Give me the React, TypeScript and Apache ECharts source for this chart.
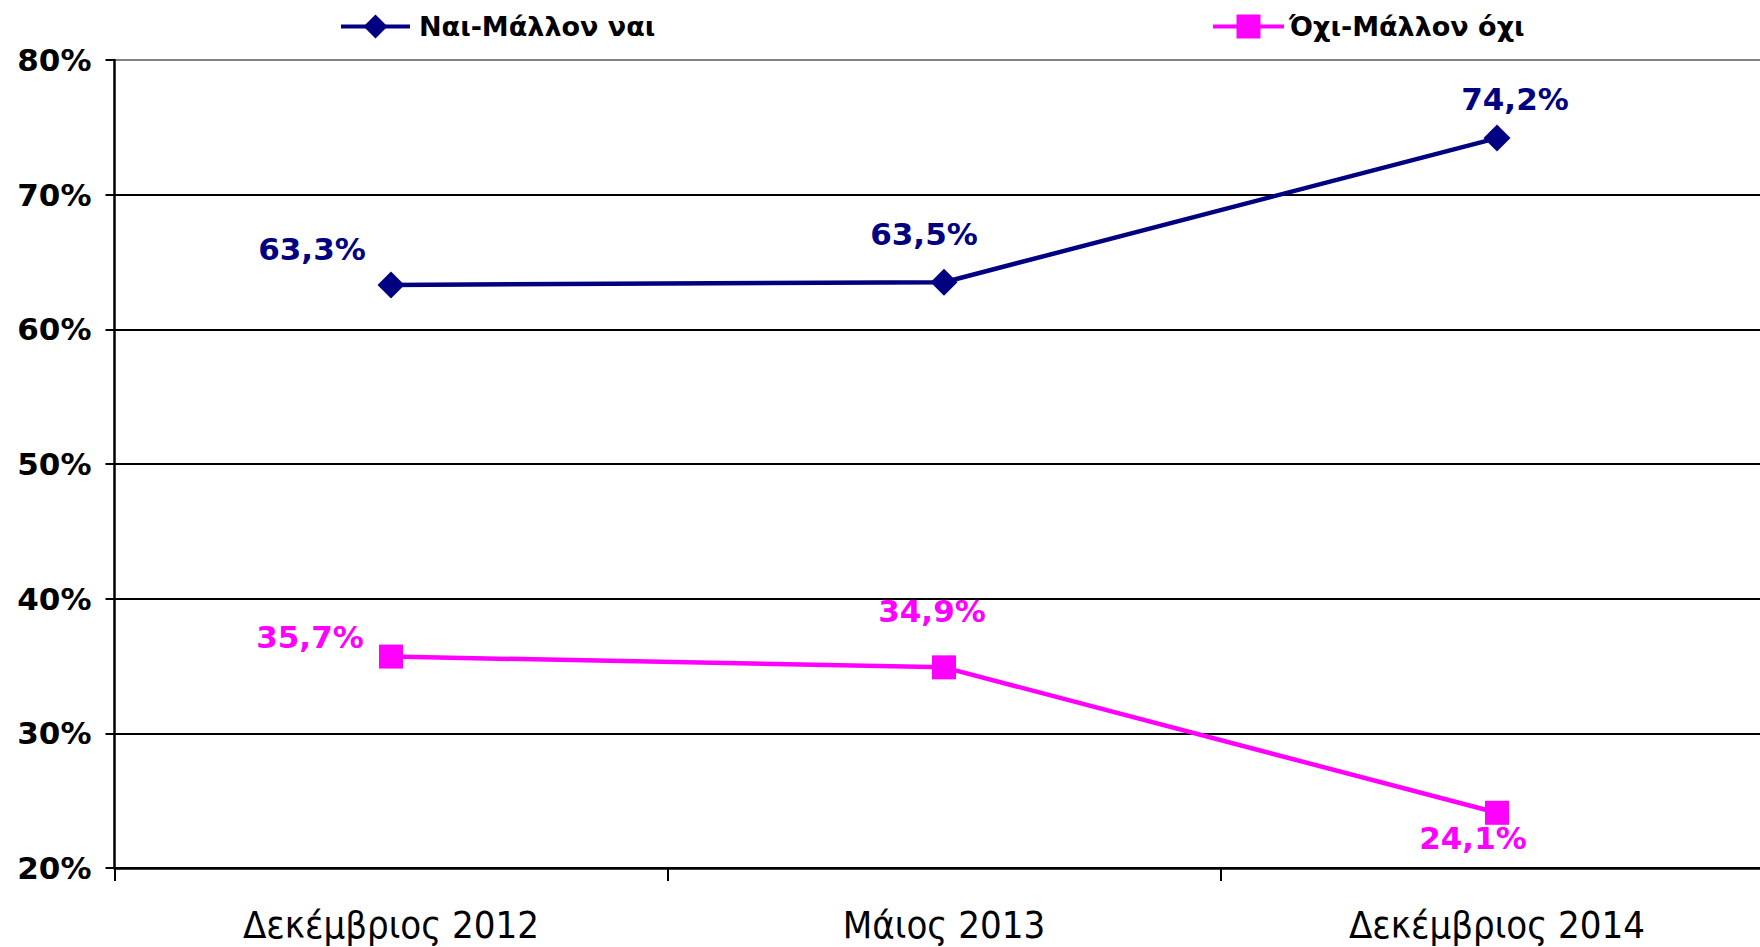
import React, { useEffect, useRef } from "react";
import * as echarts from "echarts";

const categories = ["Δεκέμβριος 2012", "Μάιος 2013", "Δεκέμβριος 2014"];
const yesValues = [63.3, 63.5, 74.2];
const noValues = [35.7, 34.9, 24.1];
const yesName = "Ναι-Μάλλον ναι";
const noName = "Όχι-Μάλλον όχι";
const yesLabelOffsets = [[-79, -36], [-20, -48], [18, -39]];
const noLabelOffsets = [[-81, -20], [-12, -56], [-24, 25]];

const NAVY = "#000080";
const MAGENTA = "#FF00FF";
const BOLD_FONT = "'DejaVu Sans', Verdana, sans-serif";
const REG_FONT = "'DejaVu Sans Condensed', 'DejaVu Sans', sans-serif";

function fmt(v: number) {
  return v.toFixed(1).replace(".", ",") + "%";
}

export default function App() {
  const ref = useRef<HTMLDivElement>(null);
  useEffect(() => {
    if (!ref.current) return;
    const chart = echarts.init(ref.current, undefined, { renderer: "svg" });
    const mk = (vals: number[], offs: number[][], color: string) =>
      vals.map((v, i) => ({
        value: v,
        label: {
          show: true,
          position: "inside",
          offset: offs[i],
          formatter: () => fmt(v),
          color,
          fontFamily: BOLD_FONT,
          fontWeight: "bold",
          fontSize: 31,
        },
      }));
    const legendCommon = {
      top: 8,
      itemHeight: 30,
      lineStyle: { width: 4 },
      textStyle: { fontFamily: BOLD_FONT, fontWeight: "bold", fontSize: 27, color: "#000" },
    };
    chart.setOption({
      animation: false,
      backgroundColor: "#ffffff",
      legend: [
        {
          ...legendCommon,
          data: [yesName],
          left: 334,
          itemWidth: 69,
          textStyle: { ...legendCommon.textStyle, padding: [0, 0, 0, 4] },
        },
        {
          ...legendCommon,
          data: [noName],
          left: 1206,
          itemWidth: 71,
          textStyle: { ...legendCommon.textStyle, padding: [0, 0, 0, 0] },
        },
      ],
      grid: { left: 114.5, top: 60, right: 6.5, bottom: 79 },
      xAxis: {
        type: "category",
        data: categories,
        boundaryGap: true,
        axisLine: { lineStyle: { color: "#000", width: 2.5 } },
        axisTick: { show: true, length: 13, lineStyle: { color: "#000", width: 2 } },
        axisLabel: { color: "#000", fontFamily: REG_FONT, fontSize: 38, margin: 38 },
        splitLine: { show: false },
      },
      yAxis: {
        type: "value",
        min: 20,
        max: 80,
        interval: 10,
        axisLine: { show: true, lineStyle: { color: "#000", width: 2.5 } },
        axisTick: { show: true, length: 9, lineStyle: { color: "#000", width: 2 } },
        axisLabel: {
          color: "#000",
          fontFamily: BOLD_FONT,
          fontWeight: "bold",
          fontSize: 31,
          margin: 23,
          formatter: (v: number) => v + "%",
        },
        splitLine: {
          show: true,
          lineStyle: {
            color: ["#000", "#000", "#000", "#000", "#000", "#000", "#808080"],
            width: 2,
          },
        },
      },
      series: [
        {
          name: yesName,
          type: "line",
          data: mk(yesValues, yesLabelOffsets, NAVY),
          symbol: "diamond",
          symbolSize: 27,
          itemStyle: { color: NAVY },
          lineStyle: { color: NAVY, width: 4.5 },
          z: 3,
        },
        {
          name: noName,
          type: "line",
          data: mk(noValues, noLabelOffsets, MAGENTA),
          symbol: "rect",
          symbolSize: 24,
          itemStyle: { color: MAGENTA },
          lineStyle: { color: MAGENTA, width: 4.5 },
          z: 3,
        },
      ],
    });
    return () => chart.dispose();
  }, []);
  return (
    <div style={{ position: "fixed", left: 0, top: 0, width: 1760, height: 947, overflow: "hidden", background: "#fff" }}>
      <div ref={ref} style={{ width: 1780, height: 947 }} />
    </div>
  );
}
